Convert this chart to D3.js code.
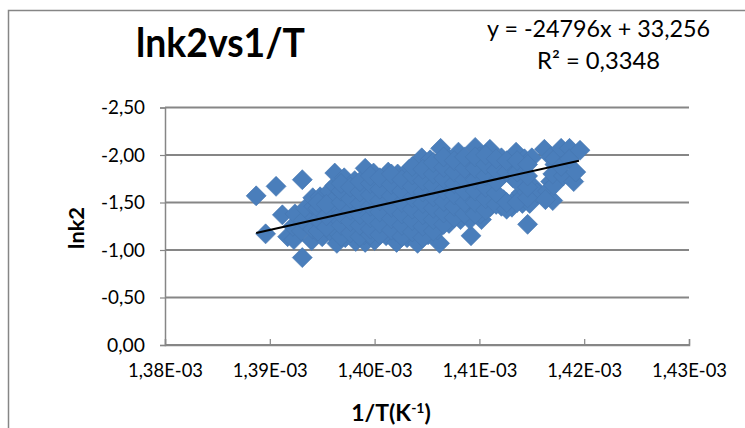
<!DOCTYPE html>
<html>
<head>
<meta charset="utf-8">
<script src="https://cdn.jsdelivr.net/npm/d3@7"></script>
<style>
  html, body { margin: 0; padding: 0; background: #fff; }
  svg { display: block; }
  text { font-family: Lato, "Open Sans", sans-serif; fill: #000; }
</style>
</head>
<body>
<div id="chart"></div>
<script>
// x values are in units of 1E-03 K^-1, as on the axis labels
const xTicks = [1.38, 1.39, 1.40, 1.41, 1.42, 1.43];
const xTickLabels = ["1,38E-03", "1,39E-03", "1,40E-03", "1,41E-03", "1,42E-03", "1,43E-03"];
const yTicks = [-2.5, -2, -1.5, -1, -0.5, 0];
const yTickLabels = ["-2,50", "-2,00", "-1,50", "-1,00", "-0,50", "0,00"];

const trendX = [1.3887, 1.4195];
const trendY = [-1.18, -1.94];

const outliers = [
  [1.3887, -1.57], [1.3906, -1.67], [1.3931, -1.74], [1.3896, -1.17],
  [1.3931, -0.92], [1.3912, -1.37], [1.3917, -1.14], [1.3923, -1.11],
];

// points read column by column across the dense band
const bandPoints = [
  [1.3922, -1.25], [1.3924, -1.38], [1.3930, -1.20], [1.3932, -1.31], [1.3934, -1.44],
  [1.3940, -1.10], [1.3941, -1.22], [1.3943, -1.34], [1.3942, -1.46], [1.3941, -1.55],
  [1.3950, -1.14], [1.3951, -1.26], [1.3949, -1.38], [1.3950, -1.50], [1.3948, -1.56],
  [1.3958, -1.19], [1.3957, -1.30], [1.3959, -1.42], [1.3958, -1.54], [1.3957, -1.62],
  [1.3964, -1.07], [1.3963, -1.20], [1.3965, -1.32], [1.3963, -1.44], [1.3964, -1.56], [1.3962, -1.68], [1.3962, -1.81],
  [1.3972, -1.13], [1.3973, -1.25], [1.3971, -1.37], [1.3972, -1.49], [1.3973, -1.61], [1.3971, -1.76],
  [1.3982, -1.09], [1.3981, -1.20], [1.3982, -1.31], [1.3983, -1.43], [1.3981, -1.55], [1.3982, -1.66], [1.3981, -1.73],
  [1.3991, -1.08], [1.3990, -1.16], [1.3992, -1.28], [1.3991, -1.40], [1.3990, -1.52], [1.3992, -1.64], [1.3991, -1.86],
  [1.4000, -1.10], [1.4001, -1.22], [1.4000, -1.34], [1.3999, -1.46], [1.4001, -1.58], [1.4000, -1.70], [1.3999, -1.81],
  [1.4011, -1.15], [1.4010, -1.27], [1.4012, -1.39], [1.4010, -1.51], [1.4011, -1.63], [1.4010, -1.75], [1.4013, -1.82],
  [1.4021, -1.08], [1.4020, -1.20], [1.4021, -1.32], [1.4022, -1.44], [1.4020, -1.56], [1.4021, -1.68], [1.4022, -1.80],
  [1.4031, -1.13], [1.4030, -1.25], [1.4032, -1.37], [1.4031, -1.49], [1.4030, -1.61], [1.4032, -1.73], [1.4033, -1.85],
  [1.4041, -1.07], [1.4042, -1.19], [1.4040, -1.31], [1.4041, -1.43], [1.4042, -1.55], [1.4040, -1.67], [1.4041, -1.79], [1.4045, -1.97],
  [1.4051, -1.16], [1.4050, -1.26], [1.4052, -1.38], [1.4051, -1.50], [1.4050, -1.62], [1.4052, -1.74], [1.4051, -1.86], [1.4053, -1.95],
  [1.4062, -1.07], [1.4060, -1.21], [1.4061, -1.33], [1.4062, -1.45], [1.4060, -1.57], [1.4061, -1.69], [1.4062, -1.81], [1.4063, -2.07],
  [1.4071, -1.28], [1.4070, -1.40], [1.4072, -1.52], [1.4071, -1.64], [1.4070, -1.76], [1.4072, -1.88], [1.4071, -1.96],
  [1.4082, -1.32], [1.4080, -1.44], [1.4081, -1.56], [1.4082, -1.68], [1.4080, -1.80], [1.4081, -1.92], [1.4080, -2.03],
  [1.4092, -1.15], [1.4091, -1.32], [1.4090, -1.44], [1.4092, -1.56], [1.4091, -1.68], [1.4090, -1.80], [1.4092, -1.92], [1.4096, -2.08],
  [1.4102, -1.32], [1.4101, -1.38], [1.4102, -1.50], [1.4100, -1.62], [1.4101, -1.74], [1.4102, -1.86], [1.4100, -1.98],
  [1.4110, -1.45], [1.4112, -1.56], [1.4111, -1.68], [1.4110, -1.80], [1.4112, -1.92], [1.4110, -2.06],
  [1.4121, -1.46], [1.4123, -1.53], [1.4120, -1.76], [1.4122, -1.88], [1.4121, -1.97],
  [1.4131, -1.45], [1.4133, -1.52], [1.4132, -1.76], [1.4131, -1.88], [1.4135, -2.03],
  [1.4146, -1.27], [1.4141, -1.49], [1.4140, -1.60], [1.4141, -1.72], [1.4142, -1.84], [1.4143, -1.96],
  [1.4150, -1.97], [1.4149, -1.54], [1.4152, -1.66], [1.4148, -1.49],
  [1.4155, -1.60], [1.4162, -2.06], [1.4172, -1.90], [1.4168, -1.98], [1.4168, -1.72], [1.4165, -1.62],
  [1.4170, -1.52], [1.4163, -1.53], [1.4172, -1.96], [1.4178, -2.07], [1.4171, -1.68], [1.4170, -1.80],
  [1.4180, -1.78], [1.4178, -1.88], [1.4186, -2.07], [1.4186, -1.96], [1.4190, -1.72], [1.4192, -1.82], [1.4196, -2.05],
];

// second reading of the band, between the columns above
const bandPointsBetween = [
  [1.3946, -1.20], [1.3946, -1.32], [1.3946, -1.44], [1.3946, -1.50],
  [1.3954, -1.24], [1.3954, -1.36], [1.3954, -1.48],
  [1.3968, -1.14], [1.3968, -1.26], [1.3968, -1.38], [1.3968, -1.50], [1.3968, -1.62], [1.3968, -1.70],
  [1.3977, -1.18], [1.3977, -1.30], [1.3977, -1.42], [1.3977, -1.54], [1.3977, -1.66],
  [1.3986, -1.14], [1.3986, -1.26], [1.3986, -1.37], [1.3986, -1.49], [1.3986, -1.61], [1.3986, -1.72],
  [1.3996, -1.16], [1.3996, -1.22], [1.3996, -1.34], [1.3996, -1.46], [1.3996, -1.58], [1.3996, -1.70], [1.3996, -1.78],
  [1.4005, -1.16], [1.4005, -1.28], [1.4005, -1.40], [1.4005, -1.52], [1.4005, -1.64], [1.4005, -1.76],
  [1.4016, -1.21], [1.4016, -1.33], [1.4016, -1.45], [1.4016, -1.57], [1.4016, -1.69], [1.4016, -1.80],
  [1.4026, -1.14], [1.4026, -1.26], [1.4026, -1.38], [1.4026, -1.50], [1.4026, -1.62], [1.4026, -1.74],
  [1.4036, -1.19], [1.4036, -1.31], [1.4036, -1.43], [1.4036, -1.55], [1.4036, -1.67], [1.4036, -1.79], [1.4036, -1.88],
  [1.4046, -1.13], [1.4046, -1.25], [1.4046, -1.37], [1.4046, -1.49], [1.4046, -1.61], [1.4046, -1.73], [1.4046, -1.85],
  [1.4056, -1.20], [1.4056, -1.32], [1.4056, -1.44], [1.4056, -1.56], [1.4056, -1.68], [1.4056, -1.80], [1.4056, -1.92],
  [1.4066, -1.27], [1.4066, -1.39], [1.4066, -1.51], [1.4066, -1.63], [1.4066, -1.75], [1.4066, -1.87], [1.4066, -1.98],
  [1.4076, -1.34], [1.4076, -1.46], [1.4076, -1.58], [1.4076, -1.70], [1.4076, -1.82], [1.4076, -1.94],
  [1.4086, -1.38], [1.4086, -1.50], [1.4086, -1.62], [1.4086, -1.74], [1.4086, -1.86], [1.4086, -1.98],
  [1.4096, -1.38], [1.4096, -1.50], [1.4096, -1.62], [1.4096, -1.74], [1.4096, -1.86], [1.4096, -1.98],
  [1.4106, -1.42], [1.4106, -1.54], [1.4106, -1.66], [1.4106, -1.78], [1.4106, -1.90], [1.4106, -2.00],
  [1.4116, -1.48], [1.4116, -1.60], [1.4116, -1.72], [1.4116, -1.84], [1.4116, -1.96],
  [1.4126, -1.43], [1.4126, -1.50], [1.4126, -1.82], [1.4126, -1.94],
  [1.4136, -1.50], [1.4136, -1.72], [1.4136, -1.82], [1.4136, -1.94],
  [1.4146, -1.55], [1.4146, -1.66], [1.4146, -1.78], [1.4146, -1.90],
];

const width = 745;
const height = 428;
const margin = { top: 107.5, right: 56, bottom: 83, left: 165 };
const axisColor = "#868686";
const markerColor = "#4a7ebb";

const svg = d3.select("#chart").append("svg")
  .attr("width", width)
  .attr("height", height);

const x = d3.scaleLinear().domain([1.38, 1.43]).range([margin.left, width - margin.right]);
const y = d3.scaleLinear().domain([-2.5, 0]).range([margin.top, height - margin.bottom]);

// chart area frame, only its top and left edges are in the picture
svg.append("path")
  .attr("d", `M8.5,${height} V10.5 H${width}`)
  .attr("fill", "none")
  .attr("stroke", axisColor)
  .attr("stroke-width", 1.5);

svg.append("g")
  .selectAll("line")
  .data(yTicks)
  .join("line")
  .attr("x1", margin.left)
  .attr("x2", width - margin.right)
  .attr("y1", (d) => y(d))
  .attr("y2", (d) => y(d))
  .attr("stroke", axisColor)
  .attr("stroke-width", 2);

const gY = svg.append("g")
  .attr("transform", `translate(${margin.left},0)`)
  .call(d3.axisLeft(y).tickValues(yTicks).tickSize(5).tickPadding(15)
    .tickFormat((d, i) => yTickLabels[i]));

const gX = svg.append("g")
  .attr("transform", `translate(0,${y(0)})`)
  .call(d3.axisBottom(x).tickValues(xTicks).tickSize(-6).tickPadding(19)
    .tickFormat((d, i) => xTickLabels[i]));

[gX, gY].forEach((g) => {
  g.select(".domain").attr("stroke", axisColor).attr("stroke-width", 1.5);
  g.selectAll(".tick line").attr("stroke", axisColor).attr("stroke-width", 1.2);
});
gX.selectAll(".tick text")
  .attr("font-family", "Lato, sans-serif")
  .attr("font-size", 19)
  .attr("fill", "#000")
  .attr("textLength", 75)
  .attr("lengthAdjust", "spacingAndGlyphs");
gY.selectAll(".tick text")
  .attr("font-family", "Lato, sans-serif")
  .attr("font-size", 19)
  .attr("fill", "#000")
  .attr("textLength", (d, i) => (yTickLabels[i].startsWith("-") ? 44 : 38))
  .attr("lengthAdjust", "spacingAndGlyphs");

const diamond = d3.symbol().type(d3.symbolSquare).size(200);

svg.append("g")
  .selectAll("path")
  .data(outliers.concat(bandPoints, bandPointsBetween))
  .join("path")
  .attr("d", diamond)
  .attr("transform", (d) => `translate(${x(d[0])},${y(d[1])}) rotate(45)`)
  .attr("fill", markerColor)
  .attr("stroke", "#4677b2")
  .attr("stroke-width", 0.6);

svg.append("line")
  .attr("x1", x(trendX[0]))
  .attr("y1", y(trendY[0]))
  .attr("x2", x(trendX[1]))
  .attr("y2", y(trendY[1]))
  .attr("stroke", "#000")
  .attr("stroke-width", 2);

const fitted = (sel, len) => sel.attr("textLength", len).attr("lengthAdjust", "spacingAndGlyphs");

svg.append("text")
  .attr("x", 136)
  .attr("y", 57)
  .attr("font-size", 41)
  .attr("font-weight", 700)
  .text("lnk2vs1/T")
  .call(fitted, 169);

svg.append("text")
  .attr("x", 487)
  .attr("y", 37)
  .attr("font-size", 23)
  .text("y = -24796x + 33,256")
  .call(fitted, 223);

svg.append("text")
  .attr("x", 537)
  .attr("y", 69)
  .attr("font-size", 23)
  .text("R² = 0,3348")
  .call(fitted, 123);

svg.append("text")
  .attr("transform", "translate(84,228) rotate(-90)")
  .attr("text-anchor", "middle")
  .attr("font-size", 21)
  .attr("font-weight", 700)
  .text("lnk2")
  .call(fitted, 42);

const xLabel = svg.append("text")
  .attr("x", 391)
  .attr("y", 421)
  .attr("text-anchor", "middle")
  .attr("font-size", 23)
  .attr("font-weight", 700);
xLabel.append("tspan").text("1/T(K");
xLabel.append("tspan").attr("dy", -8).attr("font-size", 14).text("-1");
xLabel.append("tspan").attr("dy", 8).text(")");
</script>
</body>
</html>
